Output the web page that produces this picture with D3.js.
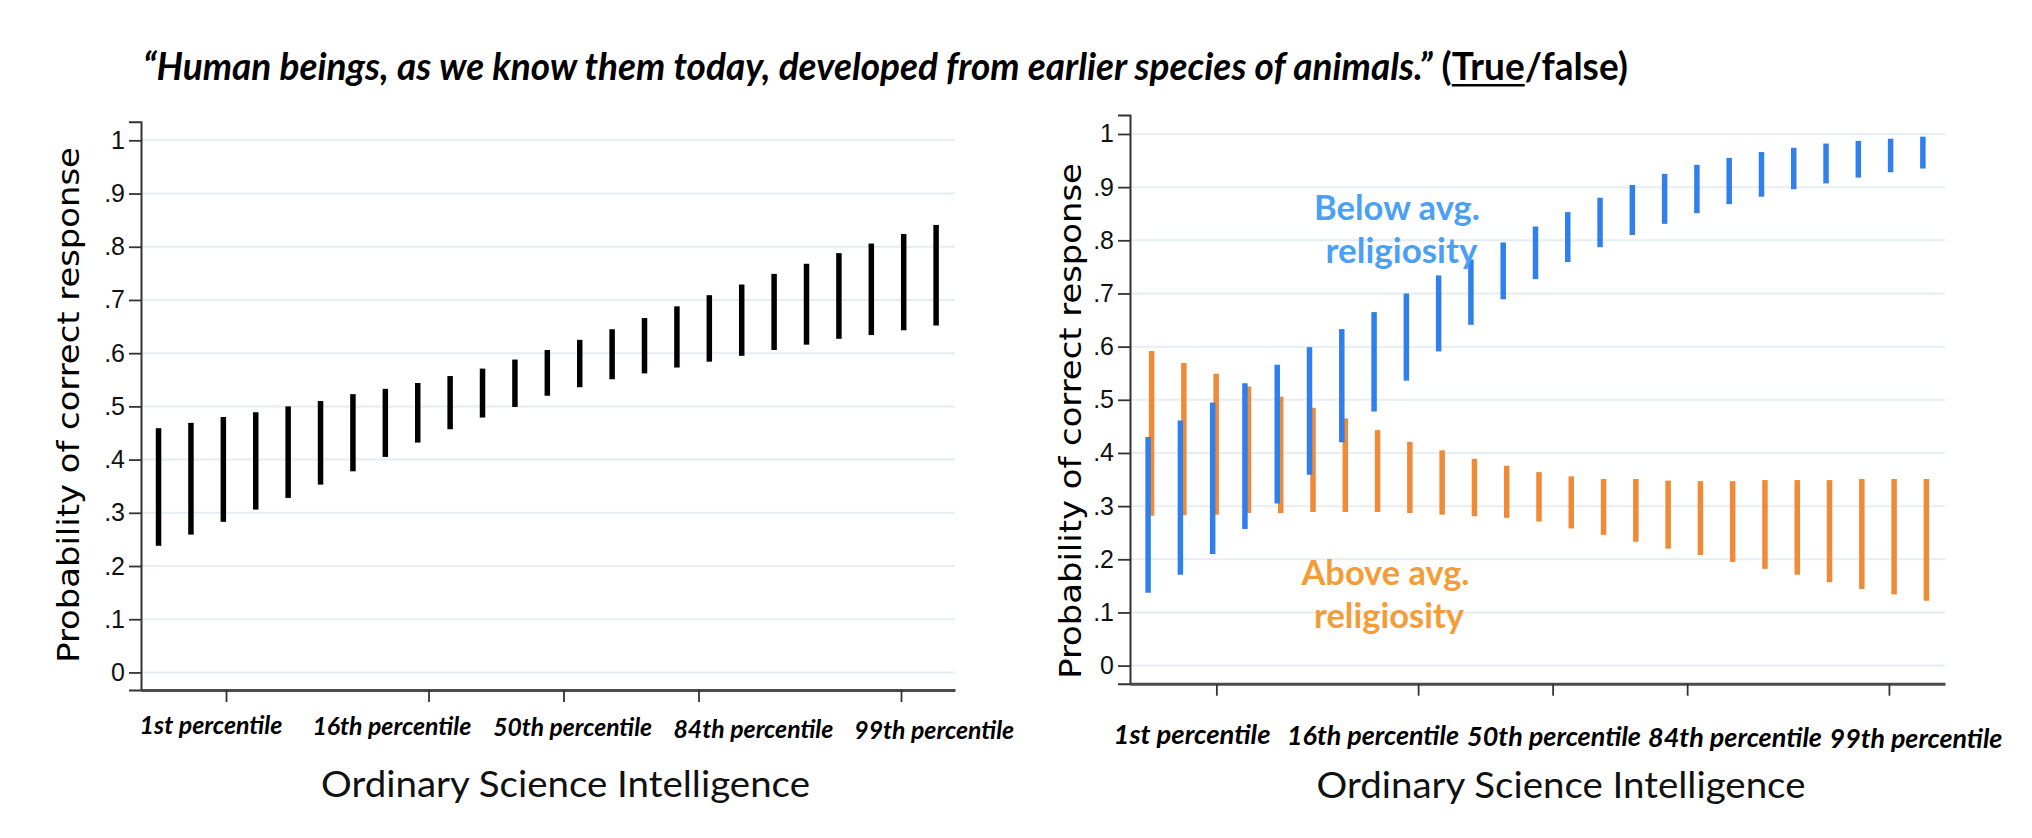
<!DOCTYPE html>
<html><head><meta charset="utf-8">
<script src="https://cdn.jsdelivr.net/npm/d3@7"></script>
<style>body{margin:0;background:#fff}</style>
</head><body>
<svg id="c" width="2032" height="838" xmlns="http://www.w3.org/2000/svg"></svg>
<script>
// ---------------- DATA ----------------
const xPos = [-3.00, -2.76, -2.52, -2.28, -2.04, -1.80, -1.56, -1.32, -1.08, -0.84, -0.60, -0.36, -0.12,
               0.12, 0.36, 0.60, 0.84, 1.08, 1.32, 1.56, 1.80, 2.04, 2.28, 2.52, 2.76];
const overallLo = [0.238, 0.259, 0.283, 0.306, 0.328, 0.353, 0.378, 0.405, 0.432, 0.457, 0.479, 0.499, 0.520,
                   0.536, 0.551, 0.562, 0.573, 0.584, 0.595, 0.606, 0.616, 0.627, 0.634, 0.643, 0.652];
const overallHi = [0.459, 0.469, 0.480, 0.489, 0.500, 0.510, 0.523, 0.533, 0.544, 0.557, 0.571, 0.588, 0.606,
                   0.625, 0.645, 0.666, 0.688, 0.709, 0.729, 0.749, 0.768, 0.788, 0.806, 0.824, 0.841];
const belowLo = [0.137, 0.171, 0.210, 0.257, 0.305, 0.359, 0.420, 0.478, 0.536, 0.591, 0.641, 0.689, 0.727,
                 0.759, 0.787, 0.810, 0.831, 0.851, 0.868, 0.882, 0.896, 0.907, 0.918, 0.928, 0.935];
const belowHi = [0.430, 0.461, 0.495, 0.531, 0.566, 0.599, 0.633, 0.665, 0.700, 0.734, 0.764, 0.796, 0.826,
                 0.853, 0.880, 0.904, 0.925, 0.942, 0.955, 0.966, 0.974, 0.982, 0.987, 0.991, 0.995];
const aboveLo = [0.282, 0.283, 0.284, 0.287, 0.287, 0.289, 0.289, 0.289, 0.287, 0.284, 0.281, 0.278, 0.271,
                 0.258, 0.246, 0.233, 0.220, 0.208, 0.195, 0.182, 0.171, 0.157, 0.144, 0.134, 0.122];
const aboveHi = [0.592, 0.569, 0.549, 0.525, 0.506, 0.485, 0.465, 0.443, 0.421, 0.405, 0.389, 0.376, 0.364,
                 0.356, 0.351, 0.351, 0.348, 0.347, 0.347, 0.349, 0.349, 0.349, 0.351, 0.351, 0.351];
const yTickValues = [0, 0.1, 0.2, 0.3, 0.4, 0.5, 0.6, 0.7, 0.8, 0.9, 1];
const yTickLabels = ["0", ".1", ".2", ".3", ".4", ".5", ".6", ".7", ".8", ".9", "1"];
const xTickValues = [-2.5, -1, 0, 1, 2.5];
const xTickLabels = ["1st percentile", "16th percentile", "50th percentile", "84th percentile", "99th percentile"];
const titleQuote = "\u201CHuman beings, as we know them today, developed from earlier species of animals.\u201D";
const titleTrue = "True";
const titleFalse = "/false)";
const yTitle = "Probability of correct response";
const xTitle = "Ordinary Science Intelligence";
const belowLabel = ["Below avg.", "religiosity"];
const aboveLabel = ["Above avg.", "religiosity"];

// ---------------- STYLE / LAYOUT ----------------
const CAL = "Lato, 'Open Sans', sans-serif";
const C_BLACK = "#000000", C_BLUE = "#2f80ed", C_ORANGE = "#f08a36";
const C_BLUE_TXT = "#4aa0f2", C_ORANGE_TXT = "#f39c38";
const GRID = "#e6eef3", AXIS = "#333333";

const svg = d3.select("#c");

// scale text horizontally to a target width (emulating narrow Calibri)
function fitText(sel, target, tx, ty, extra) {
  const w = sel.node().getBBox().width;
  const s = target / w;
  sel.attr("transform", `translate(${tx},${ty})${extra || ""} scale(${s},1)`);
  return s;
}

// ---------------- TITLE ----------------
(function () {
  const fs = "38px";
  const g = svg.append("g");
  const t1 = g.append("text").attr("x", 0).attr("y", 0)
    .style("font-family", CAL).style("font-size", fs).style("font-weight", 700).style("font-style", "italic")
    .text(titleQuote);
  let x = t1.node().getComputedTextLength();
  const t2 = g.append("text").attr("x", x).attr("y", 0)
    .style("font-family", CAL).style("font-size", fs).style("font-weight", 700)
    .text("\u00A0(");
  x += t2.node().getComputedTextLength();
  const t3 = g.append("text").attr("x", x).attr("y", 0)
    .style("font-family", CAL).style("font-size", fs).style("font-weight", 700)
    .text(titleTrue);
  const wT = t3.node().getComputedTextLength();
  g.append("rect").attr("x", x).attr("y", 4).attr("width", wT).attr("height", 2.5).attr("fill", "#000");
  x += wT;
  const t4 = g.append("text").attr("x", x).attr("y", 0)
    .style("font-family", CAL).style("font-size", fs).style("font-weight", 700)
    .text(titleFalse);
  x += t4.node().getComputedTextLength();
  const s = 1485 / x;
  g.attr("transform", `translate(143,80) scale(${s},1)`);
})();

// ---------------- PANEL ----------------
function panel(cfg) {
  const x = d3.scaleLinear().domain(cfg.xDom).range(cfg.xRange);
  const y = d3.scaleLinear().domain(cfg.yDom).range(cfg.yRange);
  const g = svg.append("g");

  // gridlines
  g.append("g").selectAll("line").data(yTickValues).join("line")
    .attr("x1", cfg.xRange[0]).attr("x2", cfg.xRange[1])
    .attr("y1", d => y(d)).attr("y2", d => y(d))
    .attr("stroke", GRID).attr("stroke-width", 2);

  // y axis
  const ya = g.append("g").attr("transform", `translate(${cfg.xRange[0]},0)`)
    .call(d3.axisLeft(y).tickValues(yTickValues).tickFormat((d, i) => yTickLabels[i]).tickSize(12).tickPadding(4));
  ya.select(".domain").attr("stroke", AXIS).attr("stroke-width", 2);
  ya.selectAll(".tick line").attr("stroke", AXIS).attr("stroke-width", 1.8);
  ya.selectAll(".tick text").style("font-family", "'Liberation Sans', Arial, sans-serif")
    .style("font-size", "25px").attr("fill", "#111");

  // x axis
  const xa = g.append("g").attr("transform", `translate(0,${cfg.yRange[0]})`)
    .call(d3.axisBottom(x).tickValues(xTickValues).tickFormat("").tickSize(12).tickSizeOuter(0));
  xa.select(".domain").attr("stroke", "#4a4a4a").attr("stroke-width", 3);
  xa.selectAll(".tick line").attr("stroke", AXIS).attr("stroke-width", 1.8);

  // bars
  cfg.series.forEach(s => {
    g.append("g").selectAll("line").data(xPos).join("line")
      .attr("x1", (d) => x(d) + s.dx).attr("x2", (d) => x(d) + s.dx)
      .attr("y1", (d, i) => y(s.lo[i])).attr("y2", (d, i) => y(s.hi[i]))
      .attr("stroke", s.color).attr("stroke-width", 5.5);
  });

  // x tick labels (separate text boxes, evenly spaced)
  xTickLabels.forEach((lab, i) => {
    const t = g.append("text").attr("x", 0).attr("y", 0).attr("text-anchor", "middle")
      .style("font-family", CAL).style("font-size", cfg.labSize + "px")
      .style("font-weight", 700).style("font-style", "italic").attr("fill", "#000").text(lab);
    fitText(t, cfg.labWidths[i], cfg.labStart + i * cfg.labStep, cfg.labY + i * cfg.labDrift);
  });

  // axis titles
  const xt = g.append("text").attr("x", 0).attr("y", 0).attr("text-anchor", "middle")
    .style("font-family", CAL).style("font-size", "37px").attr("fill", "#111").text(xTitle);
  fitText(xt, 489, cfg.xTitleX, cfg.xTitleY);

  const yt = g.append("text").attr("x", 0).attr("y", 0).attr("text-anchor", "middle")
    .style("font-family", "'DejaVu Sans', Verdana, sans-serif").style("font-size", "31px").attr("fill", "#000").text(yTitle);
  fitText(yt, 516, cfg.yTitleX, cfg.yTitleY, " rotate(-90)");

  return { x, y, g };
}

panel({
  xDom: [-3.13, 2.90], xRange: [141, 955],
  yDom: [-0.033, 1.035], yRange: [690, 121.7],
  series: [{ lo: overallLo, hi: overallHi, color: C_BLACK, dx: 0 }],
  labSize: 24, labWidths: [143, 159, 159, 160, 160], labStart: 211, labStep: 180.8, labY: 734, labDrift: 1.2,
  xTitleX: 565.5, xTitleY: 797, yTitleX: 79, yTitleY: 405
});

panel({
  xDom: [-3.142, 2.917], xRange: [1130, 1945],
  yDom: [-0.034, 1.0357], yRange: [683.7, 115],
  series: [{ lo: aboveLo, hi: aboveHi, color: C_ORANGE, dx: 2.5 },
           { lo: belowLo, hi: belowHi, color: C_BLUE, dx: -1 }],
  labSize: 26, labWidths: [157, 172, 174, 174, 173], labStart: 1192, labStep: 181, labY: 744, labDrift: 1,
  xTitleX: 1561, xTitleY: 798, yTitleX: 1081, yTitleY: 421
});

// annotations
function annot(lines, color, cx, ys, widths) {
  lines.forEach((l, i) => {
    const t = svg.append("text").attr("x", 0).attr("y", 0).attr("text-anchor", "middle")
      .style("font-family", CAL).style("font-size", "34px").style("font-weight", 700)
      .attr("fill", color).text(l);
    fitText(t, widths[i], cx[i], ys[i]);
  });
}
annot(belowLabel, C_BLUE_TXT, [1397, 1401.5], [220, 263], [166, 152]);
annot(aboveLabel, C_ORANGE_TXT, [1385.5, 1389], [585, 628], [169, 150]);
</script>
</body></html>
